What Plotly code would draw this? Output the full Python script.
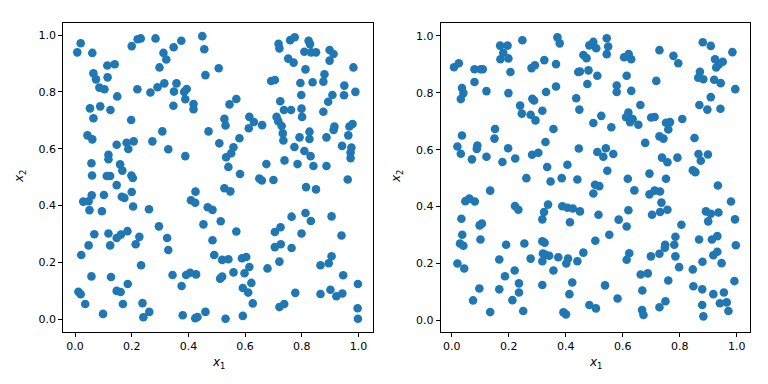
import plotly.graph_objects as go

# ---- data: (x1, x2) samples, left panel, grouped by region ----
left_top_left = [
    (0.020,0.971),(0.008,0.939),(0.061,0.937),(0.200,0.961),(0.221,0.985),(0.232,0.988),(0.284,0.988),(0.375,0.980),(0.449,0.996),(0.456,0.950),
    (0.348,0.957),(0.312,0.937),(0.322,0.914),(0.298,0.886),(0.114,0.893),(0.140,0.897),(0.065,0.865),(0.074,0.844),(0.115,0.851),(0.086,0.815),
    (0.104,0.809),(0.149,0.784),(0.220,0.809),(0.266,0.798),(0.291,0.816),(0.315,0.830),(0.358,0.830),(0.349,0.801),(0.394,0.810),(0.385,0.800),
    (0.389,0.774),(0.418,0.757),(0.418,0.739),(0.347,0.751),(0.460,0.859),(0.053,0.742),(0.089,0.749),(0.125,0.736),(0.065,0.707),(0.198,0.701),
    (0.308,0.661),(0.471,0.661),(0.044,0.647),(0.061,0.633),(0.147,0.614),(0.182,0.621),(0.207,0.626),(0.188,0.599),(0.273,0.626),(0.329,0.598),
    (0.389,0.574),(0.118,0.579),(0.118,0.563),(0.058,0.549),(0.159,0.545),(0.167,0.523),(0.060,0.506),(0.112,0.504),(0.124,0.504),(0.199,0.506),
    (0.204,0.497),
]
left_top_right = [
    (0.507,0.883),(0.759,0.982),(0.775,0.992),(0.824,0.980),(0.829,0.968),(0.718,0.969),(0.721,0.953),(0.809,0.941),(0.833,0.939),(0.850,0.939),
    (0.898,0.947),(0.912,0.933),(0.898,0.910),(0.752,0.917),(0.771,0.903),(0.813,0.879),(0.982,0.886),(0.880,0.862),(0.876,0.836),(0.692,0.838),
    (0.705,0.842),(0.795,0.831),(0.838,0.834),(0.950,0.822),(0.949,0.788),(0.989,0.800),(0.908,0.789),(0.893,0.765),(0.798,0.789),(0.724,0.767),
    (0.569,0.775),(0.545,0.756),(0.737,0.736),(0.762,0.736),(0.799,0.741),(0.801,0.712),(0.876,0.730),(0.527,0.705),(0.531,0.682),(0.615,0.712),
    (0.631,0.694),(0.613,0.672),(0.660,0.683),(0.711,0.712),(0.717,0.697),(0.729,0.680),(0.733,0.654),(0.735,0.629),(0.792,0.640),(0.827,0.660),
    (0.827,0.634),(0.915,0.678),(0.912,0.666),(0.968,0.678),(0.979,0.687),(0.964,0.647),(0.887,0.640),(0.580,0.637),(0.509,0.619),(0.559,0.605),
    (0.551,0.584),(0.533,0.570),(0.541,0.536),(0.582,0.511),(0.774,0.606),(0.809,0.592),(0.831,0.574),(0.942,0.610),(0.975,0.604),(0.972,0.587),
    (0.972,0.567),(0.675,0.546),(0.739,0.559),(0.785,0.546),(0.841,0.539),(0.887,0.539),
]
left_bottom_left = [
    (0.147,0.472),(0.200,0.448),(0.102,0.437),(0.059,0.436),(0.029,0.414),(0.048,0.415),(0.051,0.384),(0.095,0.380),(0.165,0.431),(0.174,0.427),
    (0.205,0.397),(0.261,0.387),(0.425,0.449),(0.409,0.419),(0.424,0.410),(0.468,0.394),(0.485,0.385),(0.453,0.334),(0.296,0.327),(0.068,0.299),
    (0.118,0.302),(0.147,0.286),(0.162,0.298),(0.185,0.310),(0.227,0.290),(0.214,0.264),(0.124,0.260),(0.048,0.260),(0.022,0.226),(0.325,0.286),
    (0.329,0.244),(0.485,0.278),(0.491,0.226),(0.233,0.190),(0.058,0.151),(0.127,0.149),(0.186,0.124),(0.147,0.100),(0.161,0.096),(0.012,0.097),
    (0.020,0.088),(0.036,0.054),(0.169,0.054),(0.099,0.019),(0.238,0.057),(0.262,0.026),(0.241,0.007),(0.344,0.156),(0.392,0.156),(0.406,0.164),
    (0.427,0.158),(0.376,0.117),(0.380,0.014),(0.424,0.004),(0.432,0.008),(0.460,0.026),
]
left_bottom_right = [
    (0.650,0.495),(0.659,0.488),(0.700,0.490),(0.962,0.492),(0.527,0.461),(0.548,0.450),(0.815,0.465),(0.850,0.457),(0.514,0.345),(0.569,0.309),
    (0.764,0.361),(0.813,0.374),(0.832,0.346),(0.905,0.362),(0.725,0.324),(0.705,0.307),(0.799,0.302),(0.940,0.295),(0.726,0.264),(0.705,0.254),
    (0.764,0.251),(0.519,0.209),(0.541,0.211),(0.589,0.215),(0.604,0.219),(0.615,0.184),(0.721,0.203),(0.679,0.179),(0.559,0.165),(0.598,0.162),
    (0.512,0.143),(0.519,0.150),(0.622,0.128),(0.592,0.110),(0.611,0.094),(0.627,0.056),(0.531,0.002),(0.592,0.012),(0.721,0.043),(0.738,0.054),
    (0.777,0.093),(0.866,0.190),(0.895,0.197),(0.905,0.222),(0.946,0.155),(0.998,0.124),(0.866,0.089),(0.901,0.104),(0.922,0.081),(0.943,0.091),
    (0.997,0.039),(0.998,0.002),
]

# ---- data: right panel ----
right_top_left = [
    (0.008,0.890),(0.025,0.904),(0.080,0.883),(0.102,0.883),(0.109,0.883),(0.080,0.838),(0.122,0.806),(0.036,0.817),(0.041,0.799),(0.032,0.778),
    (0.170,0.966),(0.196,0.966),(0.181,0.941),(0.171,0.918),(0.199,0.921),(0.248,0.985),(0.206,0.873),(0.199,0.799),(0.371,0.995),(0.379,0.974),
    (0.280,0.887),(0.292,0.897),(0.325,0.915),(0.366,0.901),(0.444,0.873),(0.366,0.822),(0.331,0.803),(0.283,0.779),(0.289,0.773),(0.240,0.755),
    (0.246,0.727),(0.277,0.723),(0.294,0.703),(0.318,0.737),(0.437,0.781),(0.448,0.741),(0.357,0.673),(0.152,0.673),(0.150,0.639),(0.036,0.650),
    (0.020,0.611),(0.032,0.586),(0.090,0.615),(0.088,0.603),(0.071,0.566),(0.122,0.575),(0.198,0.605),(0.178,0.557),(0.223,0.569),(0.282,0.582),
    (0.304,0.589),(0.329,0.627),(0.335,0.539),(0.406,0.547),(0.446,0.604),
]
right_top_right = [
    (0.462,0.933),(0.473,0.922),(0.483,0.967),(0.497,0.979),(0.507,0.957),(0.544,0.992),(0.549,0.963),(0.544,0.936),(0.450,0.875),(0.480,0.879),
    (0.511,0.860),(0.476,0.831),(0.605,0.925),(0.621,0.936),(0.630,0.918),(0.614,0.860),(0.579,0.826),(0.579,0.803),(0.630,0.807),(0.729,0.950),
    (0.778,0.930),(0.795,0.904),(0.718,0.842),(0.881,0.978),(0.909,0.965),(0.985,0.943),(0.924,0.918),(0.951,0.909),(0.937,0.900),(0.928,0.889),
    (0.871,0.874),(0.865,0.853),(0.883,0.848),(0.921,0.846),(0.944,0.834),(0.995,0.813),(0.909,0.785),(0.869,0.757),(0.897,0.741),(0.943,0.744),
    (0.662,0.757),(0.525,0.719),(0.497,0.694),(0.560,0.679),(0.620,0.731),(0.612,0.714),(0.635,0.708),(0.626,0.697),(0.655,0.688),(0.700,0.713),
    (0.712,0.715),(0.752,0.695),(0.766,0.697),(0.760,0.671),(0.809,0.708),(0.729,0.647),(0.743,0.639),(0.679,0.624),(0.852,0.641),(0.511,0.592),
    (0.541,0.605),(0.532,0.575),(0.567,0.585),(0.546,0.526),(0.738,0.572),(0.757,0.556),(0.792,0.572),(0.866,0.585),(0.874,0.561),(0.899,0.583),
    (0.846,0.528),(0.855,0.521),(0.694,0.516),
]
right_bottom_left = [
    (0.262,0.500),(0.347,0.488),(0.386,0.500),(0.441,0.495),(0.048,0.419),(0.062,0.428),(0.081,0.418),(0.135,0.456),(0.034,0.357),(0.098,0.334),
    (0.106,0.340),(0.037,0.301),(0.029,0.270),(0.041,0.262),(0.101,0.284),(0.020,0.200),(0.044,0.182),(0.097,0.112),(0.075,0.070),(0.135,0.029),
    (0.167,0.214),(0.191,0.266),(0.187,0.155),(0.167,0.109),(0.221,0.175),(0.236,0.130),(0.236,0.098),(0.213,0.071),(0.251,0.033),(0.222,0.402),
    (0.234,0.389),(0.255,0.270),(0.277,0.217),(0.318,0.355),(0.324,0.381),(0.338,0.407),(0.318,0.278),(0.326,0.273),(0.320,0.235),(0.318,0.208),
    (0.330,0.230),(0.342,0.227),(0.318,0.124),(0.374,0.222),(0.357,0.175),(0.388,0.401),(0.406,0.396),(0.425,0.393),(0.415,0.345),(0.408,0.217),
    (0.402,0.200),(0.441,0.208),(0.423,0.133),(0.413,0.092),(0.392,0.028),(0.401,0.021),(0.450,0.383),
]
right_bottom_right = [
    (0.618,0.498),(0.752,0.498),(0.503,0.477),(0.518,0.472),(0.497,0.446),(0.641,0.457),(0.694,0.443),(0.712,0.456),(0.731,0.453),(0.736,0.414),
    (0.934,0.474),(0.980,0.418),(0.515,0.371),(0.620,0.387),(0.586,0.354),(0.614,0.330),(0.703,0.371),(0.731,0.381),(0.757,0.389),(0.892,0.383),
    (0.909,0.375),(0.936,0.379),(0.900,0.348),(0.994,0.355),(0.806,0.336),(0.553,0.301),(0.504,0.280),(0.785,0.294),(0.781,0.266),(0.868,0.284),
    (0.913,0.284),(0.932,0.296),(0.997,0.264),(0.749,0.266),(0.748,0.255),(0.729,0.234),(0.699,0.225),(0.623,0.236),(0.614,0.213),(0.462,0.238),
    (0.785,0.225),(0.798,0.187),(0.846,0.179),(0.880,0.206),(0.918,0.229),(0.932,0.241),(0.947,0.201),(0.663,0.161),(0.688,0.165),(0.760,0.140),
    (0.538,0.123),(0.669,0.105),(0.582,0.077),(0.483,0.054),(0.506,0.042),(0.668,0.036),(0.673,0.019),(0.729,0.046),(0.750,0.067),(0.848,0.120),
    (0.879,0.109),(0.918,0.092),(0.955,0.098),(0.992,0.138),(0.941,0.060),(0.965,0.063),(0.971,0.033),(0.879,0.054),(0.883,0.014),
]

tick_vals = [0.0, 0.2, 0.4, 0.6, 0.8, 1.0]
tick_text = ["0.0", "0.2", "0.4", "0.6", "0.8", "1.0"]

left_pts = left_top_left + left_top_right + left_bottom_left + left_bottom_right
right_pts = right_top_left + right_top_right + right_bottom_left + right_bottom_right

BLUE = "#1f77b4"
marker = dict(color=BLUE, size=8.6, line=dict(width=0))

fig = go.Figure()
fig.add_trace(go.Scatter(x=[p[0] for p in left_pts], y=[p[1] for p in left_pts],
                         mode="markers", marker=marker, xaxis="x", yaxis="y",
                         showlegend=False, hoverinfo="skip"))
fig.add_trace(go.Scatter(x=[p[0] for p in right_pts], y=[p[1] for p in right_pts],
                         mode="markers", marker=marker, xaxis="x2", yaxis="y2",
                         showlegend=False, hoverinfo="skip"))

W, H = 768, 384
axis_common = dict(showline=True, mirror=True, linecolor="black", linewidth=1,
                   ticks="outside", ticklen=4, tickwidth=1, tickcolor="black",
                   showgrid=False, zeroline=False, tickvals=tick_vals, ticktext=tick_text,
                   tickfont=dict(family="DejaVu Sans", size=11, color="black"))

fig.update_layout(
    width=W, height=H,
    margin=dict(l=0, r=0, t=0, b=0),
    paper_bgcolor="white", plot_bgcolor="white",
    font=dict(family="DejaVu Sans", size=11, color="black"),
    xaxis=dict(domain=[63.3 / W, 373.3 / W], range=[-0.0413, 1.0522], anchor="y", **axis_common),
    yaxis=dict(domain=[1 - 331.7 / H, 1 - 22.7 / H], range=[-0.0436, 1.0433], anchor="x", **axis_common),
    xaxis2=dict(domain=[440.7 / W, 750.0 / W], range=[-0.0386, 1.0467], anchor="y2", **axis_common),
    yaxis2=dict(domain=[1 - 331.7 / H, 1 - 22.7 / H], range=[-0.040, 1.0466], anchor="x2", **axis_common),
)

title_font = dict(family="DejaVu Sans", size=12, color="black")
labels = [
    (218.3 / W, 1 - 363 / H, "<i>x</i><sub>1</sub>", 0),
    (595.3 / W, 1 - 363 / H, "<i>x</i><sub>1</sub>", 0),
    (20 / W, 1 - 177 / H, "<i>x</i><sub>2</sub>", -90),
    (397 / W, 1 - 177 / H, "<i>x</i><sub>2</sub>", -90),
]
for x, y, t, ang in labels:
    fig.add_annotation(x=x, y=y, xref="paper", yref="paper", text=t, showarrow=False,
                       textangle=ang, font=title_font, xanchor="center", yanchor="middle")

fig.write_html("out.html")
